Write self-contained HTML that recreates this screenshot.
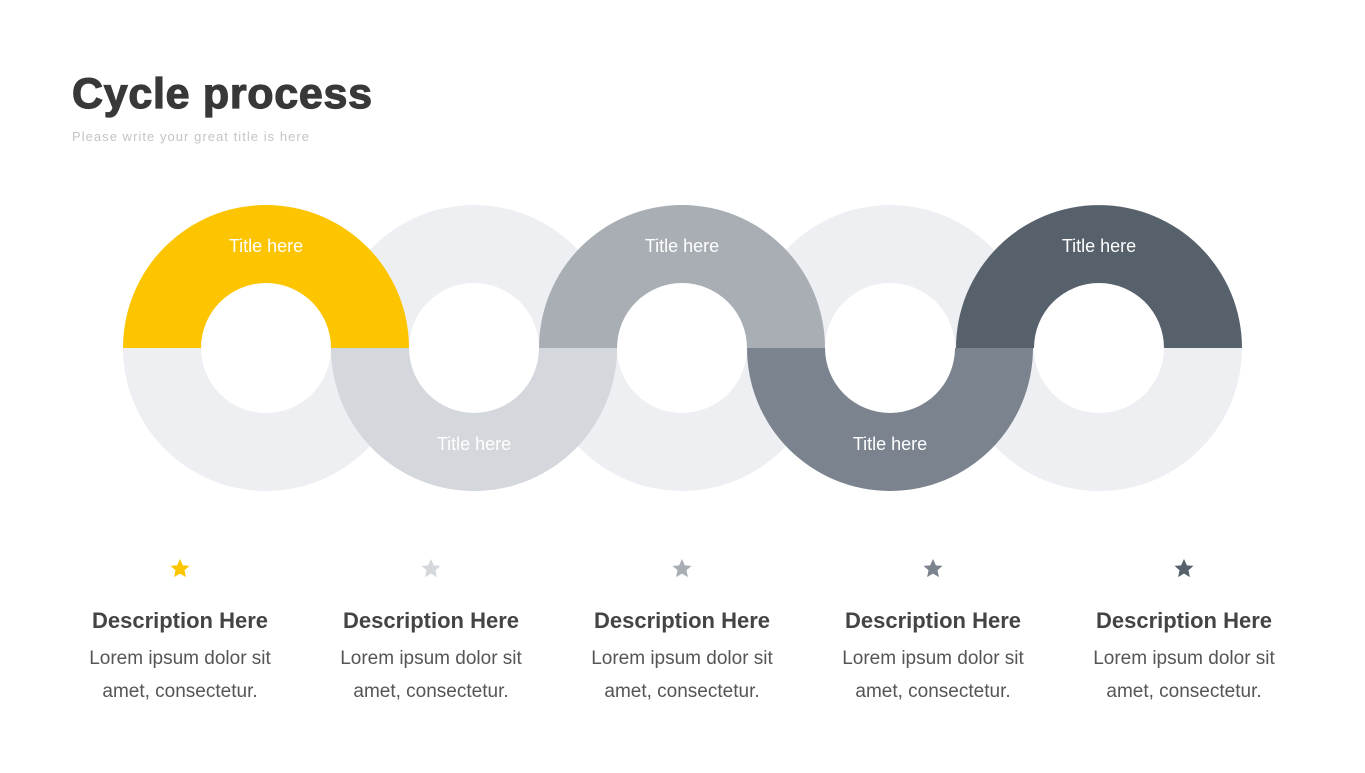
<!DOCTYPE html>
<html><head><meta charset="utf-8"><style>
body{margin:0;background:#fff;width:1365px;height:768px;overflow:hidden;font-family:"Liberation Sans",sans-serif}
</style></head><body>
<svg width="1365" height="768" viewBox="0 0 1365 768" xmlns="http://www.w3.org/2000/svg">
<text x="72" y="108" font-family="Liberation Sans, sans-serif" font-weight="bold" font-size="43" fill="#383838" textLength="300" lengthAdjust="spacing" stroke="#383838" stroke-width="1.2">Cycle process</text>
<text x="72" y="141" font-family="Liberation Sans, sans-serif" font-size="13" fill="#c4c4c4" textLength="237" lengthAdjust="spacing">Please write your great title is here</text>
<g fill="#EEEFF3" fill-rule="evenodd">
<path d="M123,348a143,143 0 1,0 286,0a143,143 0 1,0 -286,0ZM201,348a65,65 0 1,0 130,0a65,65 0 1,0 -130,0Z"/>
<path d="M331,348a143,143 0 1,0 286,0a143,143 0 1,0 -286,0ZM409,348a65,65 0 1,0 130,0a65,65 0 1,0 -130,0Z"/>
<path d="M539,348a143,143 0 1,0 286,0a143,143 0 1,0 -286,0ZM617,348a65,65 0 1,0 130,0a65,65 0 1,0 -130,0Z"/>
<path d="M747,348a143,143 0 1,0 286,0a143,143 0 1,0 -286,0ZM825,348a65,65 0 1,0 130,0a65,65 0 1,0 -130,0Z"/>
<path d="M956,348a143,143 0 1,0 286,0a143,143 0 1,0 -286,0ZM1034,348a65,65 0 1,0 130,0a65,65 0 1,0 -130,0Z"/>
</g>
<path fill="#FDC500" d="M123,348A143,143 0 0 1 409,348L331,348A65,65 0 0 0 201,348Z"/>
<path fill="#D4D7DB" d="M331,348A143,143 0 0 0 617,348L539,348A65,65 0 0 1 409,348Z"/>
<path fill="#A9AEB5" d="M539,348A143,143 0 0 1 825,348L747,348A65,65 0 0 0 617,348Z"/>
<path fill="#7B848E" d="M747,348A143,143 0 0 0 1033,348L955,348A65,65 0 0 1 825,348Z"/>
<path fill="#57616C" d="M956,348A143,143 0 0 1 1242,348L1164,348A65,65 0 0 0 1034,348Z"/>
<g font-family="Liberation Sans, sans-serif" font-size="18" fill="#fff" text-anchor="middle">
<text x="266" y="252">Title here</text>
<text x="474" y="450">Title here</text>
<text x="682" y="252">Title here</text>
<text x="890" y="450">Title here</text>
<text x="1099" y="252">Title here</text>
</g>
<defs><path id="st" d="M0,-10L2.9,-3.6L9.5,-3.1L4.5,1.3L5.9,8.1L0,4.6L-5.9,8.1L-4.5,1.3L-9.5,-3.1L-2.9,-3.6Z"/></defs>
<use href="#st" x="180" y="569" fill="#FDC500"/>
<use href="#st" x="431" y="569" fill="#D4D7DB"/>
<use href="#st" x="682" y="569" fill="#A9AEB5"/>
<use href="#st" x="933" y="569" fill="#7B848E"/>
<use href="#st" x="1184" y="569" fill="#57616C"/>
<g font-family="Liberation Sans, sans-serif" text-anchor="middle">
<g font-size="22" font-weight="bold" fill="#444">
<text x="180" y="628">Description Here</text>
<text x="431" y="628">Description Here</text>
<text x="682" y="628">Description Here</text>
<text x="933" y="628">Description Here</text>
<text x="1184" y="628">Description Here</text>
</g>
<g font-size="19" fill="#555">
<text x="180" y="664">Lorem ipsum dolor sit</text>
<text x="431" y="664">Lorem ipsum dolor sit</text>
<text x="682" y="664">Lorem ipsum dolor sit</text>
<text x="933" y="664">Lorem ipsum dolor sit</text>
<text x="1184" y="664">Lorem ipsum dolor sit</text>
<text x="180" y="697">amet, consectetur.</text>
<text x="431" y="697">amet, consectetur.</text>
<text x="682" y="697">amet, consectetur.</text>
<text x="933" y="697">amet, consectetur.</text>
<text x="1184" y="697">amet, consectetur.</text>
</g>
</g>
</svg>
</body></html>
